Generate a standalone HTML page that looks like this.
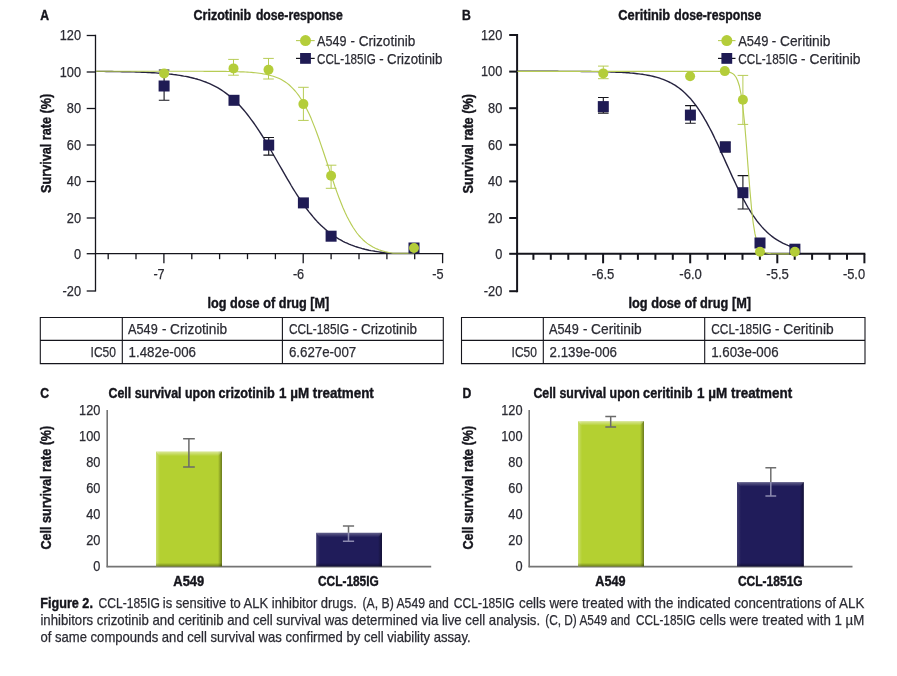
<!DOCTYPE html>
<html lang="en"><head><meta charset="utf-8"><title>Figure 2</title>
<style>
html,body{margin:0;padding:0;background:#fff;}
body{width:897px;height:676px;overflow:hidden;}
svg{display:block;font-family:'Liberation Sans', sans-serif;font-size:14.6px;}
text{fill:#2b2b33;stroke:#2b2b33;stroke-width:0.25px;}
text.b{font-weight:bold;font-size:14.1px;fill:#15151c;stroke:#15151c;stroke-width:0.4px;}
</style></head><body>
<svg width="897" height="676" viewBox="0 0 897 676">
<rect width="897" height="676" fill="#fff"/>
<defs>
<linearGradient id="gT" x1="0" y1="0" x2="0" y2="1"><stop offset="0" stop-color="#fff" stop-opacity=".5"/><stop offset="1" stop-color="#fff" stop-opacity="0"/></linearGradient>
<linearGradient id="gL" x1="0" y1="0" x2="1" y2="0"><stop offset="0" stop-color="#fff" stop-opacity=".3"/><stop offset="1" stop-color="#fff" stop-opacity="0"/></linearGradient>
<linearGradient id="gR" x1="0" y1="0" x2="1" y2="0"><stop offset="0" stop-color="#000" stop-opacity="0"/><stop offset="1" stop-color="#000" stop-opacity=".42"/></linearGradient>
<linearGradient id="gB" x1="0" y1="0" x2="0" y2="1"><stop offset="0" stop-color="#000" stop-opacity="0"/><stop offset="1" stop-color="#000" stop-opacity=".38"/></linearGradient>
<linearGradient id="nT" x1="0" y1="0" x2="0" y2="1"><stop offset="0" stop-color="#fff" stop-opacity=".3"/><stop offset="1" stop-color="#fff" stop-opacity="0"/></linearGradient>
<linearGradient id="nL" x1="0" y1="0" x2="1" y2="0"><stop offset="0" stop-color="#fff" stop-opacity=".14"/><stop offset="1" stop-color="#fff" stop-opacity="0"/></linearGradient>
<linearGradient id="nR" x1="0" y1="0" x2="1" y2="0"><stop offset="0" stop-color="#000" stop-opacity="0"/><stop offset="1" stop-color="#000" stop-opacity=".4"/></linearGradient>
<linearGradient id="nB" x1="0" y1="0" x2="0" y2="1"><stop offset="0" stop-color="#000" stop-opacity="0"/><stop offset="1" stop-color="#000" stop-opacity=".4"/></linearGradient>
</defs>
<text x="40.3" y="19.6" class="b" textLength="8.8" lengthAdjust="spacingAndGlyphs">A</text>
<text x="193.6" y="19.6" class="b" textLength="57.6" lengthAdjust="spacingAndGlyphs">Crizotinib</text>
<text x="255.9" y="19.6" class="b" textLength="86.8" lengthAdjust="spacingAndGlyphs">dose-response</text>
<line x1="95.5" y1="34.8" x2="95.5" y2="291.6" stroke="#15151c" stroke-width="1.3"/>
<line x1="86.7" y1="291" x2="95.5" y2="291" stroke="#15151c" stroke-width="1.3"/>
<text x="81" y="295.8" text-anchor="end" textLength="18.5" lengthAdjust="spacingAndGlyphs">-20</text>
<line x1="86.7" y1="253.7" x2="95.5" y2="253.7" stroke="#15151c" stroke-width="1.3"/>
<text x="81" y="258.5" text-anchor="end" textLength="7.1" lengthAdjust="spacingAndGlyphs">0</text>
<line x1="86.7" y1="218" x2="95.5" y2="218" stroke="#15151c" stroke-width="1.3"/>
<text x="81" y="222.8" text-anchor="end" textLength="14.2" lengthAdjust="spacingAndGlyphs">20</text>
<line x1="86.7" y1="181.5" x2="95.5" y2="181.5" stroke="#15151c" stroke-width="1.3"/>
<text x="81" y="186.3" text-anchor="end" textLength="14.2" lengthAdjust="spacingAndGlyphs">40</text>
<line x1="86.7" y1="145" x2="95.5" y2="145" stroke="#15151c" stroke-width="1.3"/>
<text x="81" y="149.8" text-anchor="end" textLength="14.2" lengthAdjust="spacingAndGlyphs">60</text>
<line x1="86.7" y1="108.5" x2="95.5" y2="108.5" stroke="#15151c" stroke-width="1.3"/>
<text x="81" y="113.3" text-anchor="end" textLength="14.2" lengthAdjust="spacingAndGlyphs">80</text>
<line x1="86.7" y1="72" x2="95.5" y2="72" stroke="#15151c" stroke-width="1.3"/>
<text x="81" y="76.8" text-anchor="end" textLength="21.3" lengthAdjust="spacingAndGlyphs">100</text>
<line x1="86.7" y1="35.5" x2="95.5" y2="35.5" stroke="#15151c" stroke-width="1.3"/>
<text x="81" y="40.3" text-anchor="end" textLength="21.3" lengthAdjust="spacingAndGlyphs">120</text>
<line x1="94.9" y1="253.7" x2="443.3" y2="253.7" stroke="#15151c" stroke-width="1.3"/>
<line x1="108.2" y1="253.7" x2="108.2" y2="259.2" stroke="#15151c" stroke-width="1.3"/>
<line x1="136" y1="253.7" x2="136" y2="259.2" stroke="#15151c" stroke-width="1.3"/>
<line x1="163.9" y1="253.7" x2="163.9" y2="263.2" stroke="#15151c" stroke-width="1.3"/>
<line x1="191.8" y1="253.7" x2="191.8" y2="259.2" stroke="#15151c" stroke-width="1.3"/>
<line x1="219.6" y1="253.7" x2="219.6" y2="259.2" stroke="#15151c" stroke-width="1.3"/>
<line x1="247.5" y1="253.7" x2="247.5" y2="259.2" stroke="#15151c" stroke-width="1.3"/>
<line x1="275.4" y1="253.7" x2="275.4" y2="259.2" stroke="#15151c" stroke-width="1.3"/>
<line x1="303.2" y1="253.7" x2="303.2" y2="263.2" stroke="#15151c" stroke-width="1.3"/>
<line x1="331.1" y1="253.7" x2="331.1" y2="259.2" stroke="#15151c" stroke-width="1.3"/>
<line x1="359" y1="253.7" x2="359" y2="259.2" stroke="#15151c" stroke-width="1.3"/>
<line x1="386.9" y1="253.7" x2="386.9" y2="259.2" stroke="#15151c" stroke-width="1.3"/>
<line x1="414.7" y1="253.7" x2="414.7" y2="259.2" stroke="#15151c" stroke-width="1.3"/>
<line x1="442.6" y1="253.7" x2="442.6" y2="263.2" stroke="#15151c" stroke-width="1.3"/>
<text x="164.7" y="278.8" text-anchor="end" textLength="11.3" lengthAdjust="spacingAndGlyphs">-7</text>
<text x="304.2" y="278.8" text-anchor="end" textLength="11.3" lengthAdjust="spacingAndGlyphs">-6</text>
<text x="443.5" y="278.8" text-anchor="end" textLength="11.3" lengthAdjust="spacingAndGlyphs">-5</text>
<text x="51.3" y="143.4" class="b" text-anchor="middle" textLength="99" lengthAdjust="spacingAndGlyphs" transform="rotate(-90 51.3 143.4)">Survival rate (%)</text>
<text x="207.6" y="307.8" class="b" textLength="121.7" lengthAdjust="spacingAndGlyphs">log dose of drug [M]</text>
<path d="M96.1 71.4 L98.1 71.4 L100.1 71.4 L102.1 71.4 L104.1 71.4 L106.1 71.5 L108.1 71.5 L110.1 71.5 L112.1 71.5 L114.1 71.6 L116.0 71.6 L118.0 71.6 L120.0 71.6 L122.0 71.7 L124.0 71.7 L126.0 71.8 L128.0 71.8 L130.0 71.8 L132.0 71.9 L134.0 71.9 L136.0 72.0 L137.9 72.1 L139.9 72.1 L141.9 72.2 L143.9 72.3 L145.9 72.4 L147.9 72.5 L149.9 72.6 L151.9 72.7 L153.9 72.8 L155.9 72.9 L157.9 73.1 L159.8 73.2 L161.8 73.3 L163.8 73.5 L165.8 73.7 L167.8 73.9 L169.8 74.1 L171.8 74.3 L173.8 74.6 L175.8 74.8 L177.8 75.1 L179.8 75.4 L181.7 75.7 L183.7 76.1 L185.7 76.4 L187.7 76.8 L189.7 77.3 L191.7 77.7 L193.7 78.2 L195.7 78.8 L197.7 79.3 L199.7 79.9 L201.7 80.6 L203.6 81.3 L205.6 82.0 L207.6 82.8 L209.6 83.7 L211.6 84.6 L213.6 85.6 L215.6 86.6 L217.6 87.7 L219.6 88.9 L221.6 90.2 L223.6 91.5 L225.5 92.9 L227.5 94.4 L229.5 96.0 L231.5 97.7 L233.5 99.4 L235.5 101.3 L237.5 103.2 L239.5 105.3 L241.5 107.5 L243.5 109.7 L245.5 112.1 L247.4 114.5 L249.4 117.1 L251.4 119.8 L253.4 122.5 L255.4 125.4 L257.4 128.3 L259.4 131.4 L261.4 134.5 L263.4 137.7 L265.4 140.9 L267.4 144.2 L269.3 147.6 L271.3 151.0 L273.3 154.5 L275.3 158.0 L277.3 161.5 L279.3 165.0 L281.3 168.4 L283.3 171.9 L285.3 175.4 L287.3 178.8 L289.3 182.2 L291.2 185.5 L293.2 188.8 L295.2 192.0 L297.2 195.1 L299.2 198.2 L301.2 201.1 L303.2 204.0 L305.2 206.8 L307.2 209.5 L309.2 212.1 L311.2 214.5 L313.1 216.9 L315.1 219.2 L317.1 221.4 L319.1 223.5 L321.1 225.4 L323.1 227.3 L325.1 229.1 L327.1 230.8 L329.1 232.4 L331.1 233.9 L333.1 235.3 L335.0 236.7 L337.0 237.9 L339.0 239.1 L341.0 240.2 L343.0 241.3 L345.0 242.3 L347.0 243.2 L349.0 244.1 L351.0 244.9 L353.0 245.6 L355.0 246.4 L356.9 247.0 L358.9 247.6 L360.9 248.2 L362.9 248.8 L364.9 249.3 L366.9 249.7 L368.9 250.2 L370.9 250.6 L372.9 250.9 L374.9 251.3 L376.9 251.6 L378.8 251.9 L380.8 252.2 L382.8 252.5 L384.8 252.7 L386.8 252.9 L388.8 253.2 L390.8 253.4 L392.8 253.4 L394.8 253.4 L396.8 253.4 L398.8 253.4 L400.7 253.4 L402.7 253.4 L404.7 253.4 L406.7 253.4 L408.7 253.4 L410.7 253.4 L412.7 253.4 L414.7 253.4" stroke="#26233f" stroke-width="1.4" fill="none" stroke-linejoin="round"/>
<path d="M96.1 71.2 L98.1 71.2 L100.1 71.2 L102.1 71.2 L104.1 71.2 L106.1 71.2 L108.1 71.2 L110.1 71.2 L112.1 71.2 L114.1 71.2 L116.0 71.2 L118.0 71.2 L120.0 71.2 L122.0 71.2 L124.0 71.2 L126.0 71.2 L128.0 71.2 L130.0 71.2 L132.0 71.2 L134.0 71.2 L136.0 71.2 L137.9 71.2 L139.9 71.2 L141.9 71.2 L143.9 71.2 L145.9 71.2 L147.9 71.2 L149.9 71.2 L151.9 71.2 L153.9 71.2 L155.9 71.2 L157.9 71.2 L159.8 71.2 L161.8 71.2 L163.8 71.2 L165.8 71.2 L167.8 71.2 L169.8 71.2 L171.8 71.2 L173.8 71.2 L175.8 71.2 L177.8 71.2 L179.8 71.2 L181.7 71.2 L183.7 71.2 L185.7 71.2 L187.7 71.2 L189.7 71.2 L191.7 71.2 L193.7 71.2 L195.7 71.2 L197.7 71.2 L199.7 71.2 L201.7 71.2 L203.6 71.3 L205.6 71.3 L207.6 71.3 L209.6 71.3 L211.6 71.3 L213.6 71.3 L215.6 71.3 L217.6 71.3 L219.6 71.3 L221.6 71.4 L223.6 71.4 L225.5 71.4 L227.5 71.5 L229.5 71.5 L231.5 71.5 L233.5 71.6 L235.5 71.6 L237.5 71.7 L239.5 71.8 L241.5 71.8 L243.5 71.9 L245.5 72.0 L247.4 72.1 L249.4 72.3 L251.4 72.4 L253.4 72.6 L255.4 72.8 L257.4 73.0 L259.4 73.2 L261.4 73.5 L263.4 73.9 L265.4 74.2 L267.4 74.6 L269.3 75.1 L271.3 75.7 L273.3 76.3 L275.3 77.0 L277.3 77.7 L279.3 78.6 L281.3 79.6 L283.3 80.7 L285.3 82.0 L287.3 83.4 L289.3 85.0 L291.2 86.8 L293.2 88.8 L295.2 91.0 L297.2 93.5 L299.2 96.2 L301.2 99.2 L303.2 102.5 L305.2 106.0 L307.2 109.9 L309.2 114.1 L311.2 118.6 L313.1 123.4 L315.1 128.4 L317.1 133.8 L319.1 139.3 L321.1 145.1 L323.1 151.0 L325.1 157.0 L327.1 163.0 L329.1 169.1 L331.1 175.1 L333.1 181.0 L335.0 186.8 L337.0 192.4 L339.0 197.7 L341.0 202.8 L343.0 207.7 L345.0 212.2 L347.0 216.4 L349.0 220.3 L351.0 223.9 L353.0 227.2 L355.0 230.2 L356.9 233.0 L358.9 235.5 L360.9 237.7 L362.9 239.7 L364.9 241.5 L366.9 243.1 L368.9 244.6 L370.9 245.8 L372.9 247.0 L374.9 248.0 L376.9 248.9 L378.8 249.7 L380.8 250.4 L382.8 251.0 L384.8 251.6 L386.8 252.0 L388.8 252.5 L390.8 252.8 L392.8 253.2 L394.8 253.2 L396.8 253.2 L398.8 253.2 L400.7 253.2 L402.7 253.2 L404.7 253.2 L406.7 253.2 L408.7 253.2 L410.7 253.2 L412.7 253.2 L414.7 253.2" stroke="#b7cc55" stroke-width="1.15" fill="none" stroke-linejoin="round"/>
<path d="M164.1 70V100.3M158.8 70H169.4M158.8 100.3H169.4" stroke="#15151c" stroke-width="1.1" fill="none"/>
<path d="M268.7 137.5V155.1M263.4 137.5H274M263.4 155.1H274" stroke="#15151c" stroke-width="1.1" fill="none"/>
<rect x="158.6" y="80.5" width="11" height="11" fill="#1f1b54"/>
<rect x="228.5" y="94.8" width="11" height="11" fill="#1f1b54"/>
<rect x="263.2" y="139.6" width="11" height="11" fill="#1f1b54"/>
<rect x="297.9" y="197.4" width="11" height="11" fill="#1f1b54"/>
<rect x="325.6" y="230.7" width="11" height="11" fill="#1f1b54"/>
<rect x="408.5" y="242.5" width="11" height="11" fill="#1f1b54"/>
<path d="M233.5 59.4V75.2M228.2 59.4H238.8M228.2 75.2H238.8" stroke="#b7cc55" stroke-width="1.0" fill="none"/>
<path d="M268.5 58.4V79M263.2 58.4H273.8M263.2 79H273.8" stroke="#b7cc55" stroke-width="1.0" fill="none"/>
<path d="M303.4 87.3V120.4M298.1 87.3H308.7M298.1 120.4H308.7" stroke="#b7cc55" stroke-width="1.0" fill="none"/>
<path d="M331.1 165.2V188.3M325.8 165.2H336.4M325.8 188.3H336.4" stroke="#b7cc55" stroke-width="1.0" fill="none"/>
<circle cx="164.1" cy="73.4" r="5.0" fill="#b4cd3a"/>
<circle cx="233.5" cy="68.4" r="5.0" fill="#b4cd3a"/>
<circle cx="268.5" cy="69.7" r="5.0" fill="#b4cd3a"/>
<circle cx="303.4" cy="104.1" r="5.0" fill="#b4cd3a"/>
<circle cx="331.1" cy="175.7" r="5.0" fill="#b4cd3a"/>
<circle cx="414" cy="248" r="5.0" fill="#b4cd3a"/>
<line x1="296" y1="40.6" x2="314.7" y2="40.6" stroke="#b7cc55" stroke-width="1.1"/>
<circle cx="305.5" cy="40.6" r="5.5" fill="#b4cd3a"/>
<line x1="296" y1="58.4" x2="314.7" y2="58.4" stroke="#15151c" stroke-width="1.2"/>
<rect x="300.1" y="53.0" width="10.8" height="10.8" fill="#1f1b54"/>
<text x="317" y="46" textLength="29.4" lengthAdjust="spacingAndGlyphs">A549</text>
<text x="350.6" y="46" textLength="4.4" lengthAdjust="spacingAndGlyphs">-</text>
<text x="358.7" y="46" textLength="56.6" lengthAdjust="spacingAndGlyphs">Crizotinib</text>
<text x="317" y="63.6" textLength="58.8" lengthAdjust="spacingAndGlyphs">CCL-185IG</text>
<text x="379.2" y="63.6" textLength="4.4" lengthAdjust="spacingAndGlyphs">-</text>
<text x="387.1" y="63.6" textLength="55.3" lengthAdjust="spacingAndGlyphs">Crizotinib</text>
<path d="M40.3 317.5H443.3V363.6H40.3ZM40.3 340.4H443.3M122.3 317.5V363.6M282.4 317.5V363.6" stroke="#15151c" stroke-width="1.1" fill="none" stroke-linecap="square"/>
<text x="128.1" y="333.6" textLength="29.6" lengthAdjust="spacingAndGlyphs">A549</text>
<text x="161.9" y="333.6" textLength="4.4" lengthAdjust="spacingAndGlyphs">-</text>
<text x="170.1" y="333.6" textLength="57" lengthAdjust="spacingAndGlyphs">Crizotinib</text>
<text x="288.9" y="333.6" textLength="60.2" lengthAdjust="spacingAndGlyphs">CCL-185IG</text>
<text x="352.7" y="333.6" textLength="4.4" lengthAdjust="spacingAndGlyphs">-</text>
<text x="360.9" y="333.6" textLength="56.2" lengthAdjust="spacingAndGlyphs">Crizotinib</text>
<text x="116" y="356.5" text-anchor="end" textLength="25.4" lengthAdjust="spacingAndGlyphs">IC50</text>
<text x="128.6" y="356.5" textLength="67.4" lengthAdjust="spacingAndGlyphs">1.482e-006</text>
<text x="288.9" y="356.5" textLength="67.4" lengthAdjust="spacingAndGlyphs">6.627e-007</text>
<text x="462" y="19.6" class="b" textLength="8.8" lengthAdjust="spacingAndGlyphs">B</text>
<text x="618.3" y="19.6" class="b" textLength="51.9" lengthAdjust="spacingAndGlyphs">Ceritinib</text>
<text x="674.3" y="19.6" class="b" textLength="86.9" lengthAdjust="spacingAndGlyphs">dose-response</text>
<line x1="517.1" y1="34" x2="517.1" y2="292.2" stroke="#15151c" stroke-width="2"/>
<line x1="509.2" y1="291.2" x2="517.1" y2="291.2" stroke="#15151c" stroke-width="2"/>
<text x="502.3" y="296" text-anchor="end" textLength="18.5" lengthAdjust="spacingAndGlyphs">-20</text>
<line x1="509.2" y1="253.8" x2="517.1" y2="253.8" stroke="#15151c" stroke-width="2"/>
<text x="502.3" y="258.6" text-anchor="end" textLength="7.1" lengthAdjust="spacingAndGlyphs">0</text>
<line x1="509.2" y1="218" x2="517.1" y2="218" stroke="#15151c" stroke-width="2"/>
<text x="502.3" y="222.8" text-anchor="end" textLength="14.2" lengthAdjust="spacingAndGlyphs">20</text>
<line x1="509.2" y1="181.4" x2="517.1" y2="181.4" stroke="#15151c" stroke-width="2"/>
<text x="502.3" y="186.2" text-anchor="end" textLength="14.2" lengthAdjust="spacingAndGlyphs">40</text>
<line x1="509.2" y1="144.8" x2="517.1" y2="144.8" stroke="#15151c" stroke-width="2"/>
<text x="502.3" y="149.6" text-anchor="end" textLength="14.2" lengthAdjust="spacingAndGlyphs">60</text>
<line x1="509.2" y1="108.2" x2="517.1" y2="108.2" stroke="#15151c" stroke-width="2"/>
<text x="502.3" y="113" text-anchor="end" textLength="14.2" lengthAdjust="spacingAndGlyphs">80</text>
<line x1="509.2" y1="71.6" x2="517.1" y2="71.6" stroke="#15151c" stroke-width="2"/>
<text x="502.3" y="76.4" text-anchor="end" textLength="21.3" lengthAdjust="spacingAndGlyphs">100</text>
<line x1="509.2" y1="35" x2="517.1" y2="35" stroke="#15151c" stroke-width="2"/>
<text x="502.3" y="39.8" text-anchor="end" textLength="21.3" lengthAdjust="spacingAndGlyphs">120</text>
<line x1="516.1" y1="253.8" x2="865.3" y2="253.8" stroke="#15151c" stroke-width="2"/>
<line x1="533.4" y1="253.8" x2="533.4" y2="259.8" stroke="#15151c" stroke-width="2"/>
<line x1="550.8" y1="253.8" x2="550.8" y2="259.8" stroke="#15151c" stroke-width="2"/>
<line x1="568.3" y1="253.8" x2="568.3" y2="259.8" stroke="#15151c" stroke-width="2"/>
<line x1="585.7" y1="253.8" x2="585.7" y2="259.8" stroke="#15151c" stroke-width="2"/>
<line x1="603.1" y1="253.8" x2="603.1" y2="263.3" stroke="#15151c" stroke-width="2"/>
<line x1="620.5" y1="253.8" x2="620.5" y2="259.8" stroke="#15151c" stroke-width="2"/>
<line x1="637.9" y1="253.8" x2="637.9" y2="259.8" stroke="#15151c" stroke-width="2"/>
<line x1="655.4" y1="253.8" x2="655.4" y2="259.8" stroke="#15151c" stroke-width="2"/>
<line x1="672.8" y1="253.8" x2="672.8" y2="259.8" stroke="#15151c" stroke-width="2"/>
<line x1="690.2" y1="253.8" x2="690.2" y2="263.3" stroke="#15151c" stroke-width="2"/>
<line x1="707.6" y1="253.8" x2="707.6" y2="259.8" stroke="#15151c" stroke-width="2"/>
<line x1="725" y1="253.8" x2="725" y2="259.8" stroke="#15151c" stroke-width="2"/>
<line x1="742.5" y1="253.8" x2="742.5" y2="259.8" stroke="#15151c" stroke-width="2"/>
<line x1="759.9" y1="253.8" x2="759.9" y2="259.8" stroke="#15151c" stroke-width="2"/>
<line x1="777.3" y1="253.8" x2="777.3" y2="263.3" stroke="#15151c" stroke-width="2"/>
<line x1="794.7" y1="253.8" x2="794.7" y2="259.8" stroke="#15151c" stroke-width="2"/>
<line x1="812.1" y1="253.8" x2="812.1" y2="259.8" stroke="#15151c" stroke-width="2"/>
<line x1="829.6" y1="253.8" x2="829.6" y2="259.8" stroke="#15151c" stroke-width="2"/>
<line x1="847" y1="253.8" x2="847" y2="259.8" stroke="#15151c" stroke-width="2"/>
<line x1="864.4" y1="253.8" x2="864.4" y2="263.3" stroke="#15151c" stroke-width="2"/>
<text x="603.1" y="278.8" text-anchor="middle" textLength="22.6" lengthAdjust="spacingAndGlyphs">-6.5</text>
<text x="690.6" y="278.8" text-anchor="middle" textLength="22.6" lengthAdjust="spacingAndGlyphs">-6.0</text>
<text x="777.6" y="278.8" text-anchor="middle" textLength="22.6" lengthAdjust="spacingAndGlyphs">-5.5</text>
<text x="865.1" y="278.8" text-anchor="end" textLength="22.2" lengthAdjust="spacingAndGlyphs">-5.0</text>
<text x="473.5" y="143.8" class="b" text-anchor="middle" textLength="99.5" lengthAdjust="spacingAndGlyphs" transform="rotate(-90 473.5 143.8)">Survival rate (%)</text>
<text x="628.5" y="307.8" class="b" textLength="122.5" lengthAdjust="spacingAndGlyphs">log dose of drug [M]</text>
<path d="M517.5 71.3 L519.3 71.3 L521.0 71.3 L522.7 71.3 L524.5 71.3 L526.2 71.3 L527.9 71.3 L529.7 71.3 L531.4 71.3 L533.1 71.3 L534.9 71.3 L536.6 71.3 L538.3 71.3 L540.1 71.3 L541.8 71.3 L543.5 71.3 L545.3 71.3 L547.0 71.3 L548.7 71.3 L550.5 71.3 L552.2 71.3 L553.9 71.3 L555.7 71.3 L557.4 71.3 L559.1 71.4 L560.9 71.4 L562.6 71.4 L564.3 71.4 L566.1 71.4 L567.8 71.4 L569.5 71.4 L571.3 71.4 L573.0 71.4 L574.7 71.4 L576.5 71.4 L578.2 71.4 L579.9 71.4 L581.7 71.5 L583.4 71.5 L585.1 71.5 L586.9 71.5 L588.6 71.5 L590.3 71.5 L592.1 71.6 L593.8 71.6 L595.5 71.6 L597.3 71.6 L599.0 71.7 L600.7 71.7 L602.5 71.7 L604.2 71.8 L605.9 71.8 L607.7 71.9 L609.4 71.9 L611.1 72.0 L612.9 72.0 L614.6 72.1 L616.3 72.2 L618.1 72.2 L619.8 72.3 L621.5 72.4 L623.3 72.5 L625.0 72.6 L626.7 72.7 L628.5 72.8 L630.2 73.0 L631.9 73.1 L633.7 73.3 L635.4 73.5 L637.1 73.7 L638.9 73.9 L640.6 74.1 L642.3 74.3 L644.1 74.6 L645.8 74.9 L647.5 75.2 L649.3 75.5 L651.0 75.9 L652.7 76.3 L654.5 76.7 L656.2 77.1 L657.9 77.6 L659.7 78.2 L661.4 78.8 L663.1 79.4 L664.9 80.1 L666.6 80.8 L668.3 81.6 L670.1 82.5 L671.8 83.4 L673.5 84.4 L675.3 85.4 L677.0 86.6 L678.7 87.8 L680.5 89.1 L682.2 90.5 L683.9 92.1 L685.7 93.7 L687.4 95.4 L689.1 97.2 L690.9 99.1 L692.6 101.2 L694.3 103.4 L696.1 105.7 L697.8 108.1 L699.5 110.7 L701.3 113.3 L703.0 116.1 L704.7 119.1 L706.5 122.1 L708.2 125.3 L709.9 128.5 L711.7 131.9 L713.4 135.4 L715.1 139.0 L716.9 142.6 L718.6 146.3 L720.3 150.1 L722.0 153.9 L723.8 157.7 L725.5 161.6 L727.2 165.4 L729.0 169.3 L730.7 173.1 L732.4 176.9 L734.2 180.6 L735.9 184.3 L737.6 187.9 L739.4 191.5 L741.1 194.9 L742.8 198.2 L744.6 201.4 L746.3 204.5 L748.0 207.5 L749.8 210.4 L751.5 213.1 L753.2 215.7 L755.0 218.2 L756.7 220.6 L758.4 222.8 L760.2 224.9 L761.9 226.9 L763.6 228.8 L765.4 230.6 L767.1 232.2 L768.8 233.8 L770.6 235.3 L772.3 236.6 L774.0 237.9 L775.8 239.1 L777.5 240.2 L779.2 241.2 L781.0 242.2 L782.7 243.1 L784.4 243.9 L786.2 244.7 L787.9 245.4 L789.6 246.0 L791.4 246.6 L793.1 247.2 L794.8 247.7" stroke="#26233f" stroke-width="1.4" fill="none" stroke-linejoin="round"/>
<path d="M517.5 71.3 L519.3 71.3 L521.0 71.3 L522.7 71.3 L524.5 71.3 L526.2 71.3 L527.9 71.3 L529.7 71.3 L531.4 71.3 L533.1 71.3 L534.9 71.3 L536.6 71.3 L538.3 71.3 L540.1 71.3 L541.8 71.3 L543.5 71.3 L545.3 71.3 L547.0 71.3 L548.7 71.3 L550.5 71.3 L552.2 71.3 L553.9 71.3 L555.7 71.3 L557.4 71.3 L559.1 71.3 L560.9 71.3 L562.6 71.3 L564.3 71.3 L566.1 71.3 L567.8 71.3 L569.5 71.3 L571.3 71.3 L573.0 71.3 L574.7 71.3 L576.5 71.3 L578.2 71.3 L579.9 71.3 L581.7 71.3 L583.4 71.3 L585.1 71.3 L586.9 71.3 L588.6 71.3 L590.3 71.3 L592.1 71.3 L593.8 71.3 L595.5 71.3 L597.3 71.3 L599.0 71.3 L600.7 71.3 L602.5 71.3 L604.2 71.3 L605.9 71.3 L607.7 71.3 L609.4 71.3 L611.1 71.3 L612.9 71.3 L614.6 71.3 L616.3 71.3 L618.1 71.3 L619.8 71.3 L621.5 71.3 L623.3 71.3 L625.0 71.3 L626.7 71.3 L628.5 71.3 L630.2 71.3 L631.9 71.3 L633.7 71.3 L635.4 71.3 L637.1 71.3 L638.9 71.3 L640.6 71.3 L642.3 71.3 L644.1 71.3 L645.8 71.3 L647.5 71.3 L649.3 71.3 L651.0 71.3 L652.7 71.3 L654.5 71.3 L656.2 71.3 L657.9 71.3 L659.7 71.3 L661.4 71.3 L663.1 71.3 L664.9 71.3 L666.6 71.3 L668.3 71.3 L670.1 71.3 L671.8 71.3 L673.5 71.3 L675.3 71.3 L677.0 71.3 L678.7 71.3 L680.5 71.3 L682.2 71.3 L683.9 71.3 L685.7 71.3 L687.4 71.3 L689.1 71.3 L690.9 71.3 L692.6 71.3 L694.3 71.3 L696.1 71.3 L697.8 71.3 L699.5 71.3 L701.3 71.3 L703.0 71.3 L704.7 71.3 L706.5 71.3 L708.2 71.3 L709.9 71.3 L711.7 71.3 L713.4 71.3 L715.1 71.3 L716.9 71.3 L718.6 71.3 L720.3 71.4 L722.0 71.4 L723.8 71.5 L725.5 71.6 L727.2 71.8 L729.0 72.1 L730.7 72.6 L732.4 73.4 L734.2 74.8 L735.9 77.0 L737.6 80.5 L739.4 86.0 L741.1 94.5 L742.8 106.7 L744.6 123.3 L746.3 143.8 L748.0 166.4 L749.8 188.7 L751.5 208.0 L753.2 223.0 L755.0 233.9 L756.7 241.2 L758.4 246.0 L760.2 249.0 L761.9 250.9 L763.6 252.0 L765.4 252.7 L767.1 253.1 L768.8 253.4 L770.6 253.6 L772.3 253.7 L774.0 253.7 L775.8 253.7 L777.5 253.8 L779.2 253.8 L781.0 253.8 L782.7 253.8 L784.4 253.8 L786.2 253.8 L787.9 253.8 L789.6 253.8 L791.4 253.8 L793.1 253.8 L794.8 253.8" stroke="#b7cc55" stroke-width="1.15" fill="none" stroke-linejoin="round"/>
<path d="M603.3 97.5V113.1M598 97.5H608.6M598 113.1H608.6" stroke="#15151c" stroke-width="1.1" fill="none"/>
<path d="M690.4 105.6V123.2M685.1 105.6H695.7M685.1 123.2H695.7" stroke="#15151c" stroke-width="1.1" fill="none"/>
<path d="M742.9 175.6V209M737.6 175.6H748.2M737.6 209H748.2" stroke="#15151c" stroke-width="1.1" fill="none"/>
<path d="M725.3 142V152M720 142H730.6M720 152H730.6" stroke="#15151c" stroke-width="1.1" fill="none"/>
<rect x="597.8" y="101.1" width="11" height="11" fill="#1f1b54"/>
<rect x="684.9" y="109.6" width="11" height="11" fill="#1f1b54"/>
<rect x="719.8" y="141.5" width="11" height="11" fill="#1f1b54"/>
<rect x="737.4" y="187.2" width="11" height="11" fill="#1f1b54"/>
<rect x="754.5" y="237.5" width="11" height="11" fill="#1f1b54"/>
<rect x="789.4" y="243.7" width="11" height="11" fill="#1f1b54"/>
<path d="M603.3 66.1V78.7M598 66.1H608.6M598 78.7H608.6" stroke="#b7cc55" stroke-width="1.0" fill="none"/>
<path d="M742.9 75.4V124.4M737.6 75.4H748.2M737.6 124.4H748.2" stroke="#b7cc55" stroke-width="1.0" fill="none"/>
<circle cx="603.3" cy="73.4" r="5.0" fill="#b4cd3a"/>
<circle cx="690.1" cy="76.2" r="5.0" fill="#b4cd3a"/>
<circle cx="724.8" cy="71.1" r="5.0" fill="#b4cd3a"/>
<circle cx="742.9" cy="99.8" r="5.0" fill="#b4cd3a"/>
<circle cx="760" cy="251.8" r="5.0" fill="#b4cd3a"/>
<circle cx="794.9" cy="251.8" r="5.0" fill="#b4cd3a"/>
<line x1="718" y1="40.6" x2="735.5" y2="40.6" stroke="#b7cc55" stroke-width="1.1"/>
<circle cx="726.8" cy="40.6" r="5.5" fill="#b4cd3a"/>
<line x1="718" y1="58.4" x2="735.5" y2="58.4" stroke="#15151c" stroke-width="1.2"/>
<rect x="721.4" y="53.0" width="10.8" height="10.8" fill="#1f1b54"/>
<text x="738.2" y="46" textLength="30.2" lengthAdjust="spacingAndGlyphs">A549</text>
<text x="771.8" y="46" textLength="4.4" lengthAdjust="spacingAndGlyphs">-</text>
<text x="780" y="46" textLength="50.4" lengthAdjust="spacingAndGlyphs">Ceritinib</text>
<text x="738.2" y="63.6" textLength="59.4" lengthAdjust="spacingAndGlyphs">CCL-185IG</text>
<text x="801" y="63.6" textLength="4.4" lengthAdjust="spacingAndGlyphs">-</text>
<text x="809.6" y="63.6" textLength="50.9" lengthAdjust="spacingAndGlyphs">Ceritinib</text>
<path d="M461.5 317.5H865.0V363.6H461.5ZM461.5 340.4H865.0M543.3 317.5V363.6M704.7 317.5V363.6" stroke="#15151c" stroke-width="1.1" fill="none" stroke-linecap="square"/>
<text x="549.1" y="333.6" textLength="29.6" lengthAdjust="spacingAndGlyphs">A549</text>
<text x="582.9" y="333.6" textLength="4.4" lengthAdjust="spacingAndGlyphs">-</text>
<text x="591.1" y="333.6" textLength="50.5" lengthAdjust="spacingAndGlyphs">Ceritinib</text>
<text x="711.2" y="333.6" textLength="60.2" lengthAdjust="spacingAndGlyphs">CCL-185IG</text>
<text x="775" y="333.6" textLength="4.4" lengthAdjust="spacingAndGlyphs">-</text>
<text x="783.2" y="333.6" textLength="50.5" lengthAdjust="spacingAndGlyphs">Ceritinib</text>
<text x="537" y="356.5" text-anchor="end" textLength="25.4" lengthAdjust="spacingAndGlyphs">IC50</text>
<text x="549.6" y="356.5" textLength="67.4" lengthAdjust="spacingAndGlyphs">2.139e-006</text>
<text x="711.2" y="356.5" textLength="67.4" lengthAdjust="spacingAndGlyphs">1.603e-006</text>
<text x="40.3" y="398" class="b" textLength="8.8" lengthAdjust="spacingAndGlyphs">C</text>
<text x="108.5" y="398" class="b" textLength="106.8" lengthAdjust="spacingAndGlyphs">Cell survival upon</text>
<text x="218.5" y="398" class="b" textLength="56.3" lengthAdjust="spacingAndGlyphs">crizotinib</text>
<text x="279" y="398" class="b" textLength="94.8" lengthAdjust="spacingAndGlyphs">1 µM treatment</text>
<line x1="107.2" y1="410" x2="107.2" y2="567.2" stroke="#747474" stroke-width="1.6"/>
<line x1="106.6" y1="566.6" x2="431.2" y2="566.6" stroke="#747474" stroke-width="1.6"/>
<text x="100.4" y="571.1" text-anchor="end" textLength="7.1" lengthAdjust="spacingAndGlyphs">0</text>
<text x="100.4" y="545.1" text-anchor="end" textLength="14.2" lengthAdjust="spacingAndGlyphs">20</text>
<text x="100.4" y="519.2" text-anchor="end" textLength="14.2" lengthAdjust="spacingAndGlyphs">40</text>
<text x="100.4" y="493.2" text-anchor="end" textLength="14.2" lengthAdjust="spacingAndGlyphs">60</text>
<text x="100.4" y="467.3" text-anchor="end" textLength="14.2" lengthAdjust="spacingAndGlyphs">80</text>
<text x="100.4" y="441.3" text-anchor="end" textLength="21.3" lengthAdjust="spacingAndGlyphs">100</text>
<text x="100.4" y="415.4" text-anchor="end" textLength="21.3" lengthAdjust="spacingAndGlyphs">120</text>
<text x="51.3" y="487.7" class="b" text-anchor="middle" textLength="123.8" lengthAdjust="spacingAndGlyphs" transform="rotate(-90 51.3 487.7)">Cell survival rate (%)</text>
<rect x="156" y="451.6" width="66.0" height="114.8" fill="#b4d031"/>
<rect x="156" y="451.6" width="4" height="114.8" fill="url(#gL)"/>
<rect x="218.0" y="451.6" width="4" height="114.8" fill="url(#gR)"/>
<rect x="156" y="562.9" width="66.0" height="3.5" fill="url(#gB)"/>
<path d="M156 451.6H222L218.5 456.1H159.5Z" fill="url(#gT)"/>
<rect x="316.2" y="532.8" width="65.8" height="33.6" fill="#201c5a"/>
<rect x="316.2" y="532.8" width="4" height="33.6" fill="url(#nL)"/>
<rect x="378.0" y="532.8" width="4" height="33.6" fill="url(#nR)"/>
<rect x="316.2" y="562.9" width="65.8" height="3.5" fill="url(#nB)"/>
<path d="M316.2 532.8H382L378.5 537.3H319.7Z" fill="url(#nT)"/>
<path d="M188.9 438.8V466.9M183.1 438.8H194.8M183.1 466.9H194.8" stroke="#6a6a6a" stroke-width="1.5" fill="none"/>
<path d="M348.5 525.9V532.8M342.9 525.9H354.1" stroke="#6f6f6f" stroke-width="1.5" fill="none"/>
<path d="M348.5 532.8V541.2M342.9 541.2H354.1" stroke="#8c8ab0" stroke-width="1.5" fill="none"/>
<text x="173.3" y="586.1" class="b" textLength="30.9" lengthAdjust="spacingAndGlyphs">A549</text>
<text x="318" y="586.1" class="b" textLength="60.8" lengthAdjust="spacingAndGlyphs">CCL-185IG</text>
<text x="462.6" y="398" class="b" textLength="8.8" lengthAdjust="spacingAndGlyphs">D</text>
<text x="533.4" y="398" class="b" textLength="106.4" lengthAdjust="spacingAndGlyphs">Cell survival upon</text>
<text x="643.1" y="398" class="b" textLength="49.5" lengthAdjust="spacingAndGlyphs">ceritinib</text>
<text x="697.1" y="398" class="b" textLength="95.1" lengthAdjust="spacingAndGlyphs">1 µM treatment</text>
<line x1="529.2" y1="410" x2="529.2" y2="567.2" stroke="#747474" stroke-width="1.6"/>
<line x1="528.6" y1="566.6" x2="852.5" y2="566.6" stroke="#747474" stroke-width="1.6"/>
<text x="522.5" y="571.1" text-anchor="end" textLength="7.1" lengthAdjust="spacingAndGlyphs">0</text>
<text x="522.5" y="545.1" text-anchor="end" textLength="14.2" lengthAdjust="spacingAndGlyphs">20</text>
<text x="522.5" y="519.2" text-anchor="end" textLength="14.2" lengthAdjust="spacingAndGlyphs">40</text>
<text x="522.5" y="493.2" text-anchor="end" textLength="14.2" lengthAdjust="spacingAndGlyphs">60</text>
<text x="522.5" y="467.3" text-anchor="end" textLength="14.2" lengthAdjust="spacingAndGlyphs">80</text>
<text x="522.5" y="441.3" text-anchor="end" textLength="21.3" lengthAdjust="spacingAndGlyphs">100</text>
<text x="522.5" y="415.4" text-anchor="end" textLength="21.3" lengthAdjust="spacingAndGlyphs">120</text>
<text x="473.5" y="487.7" class="b" text-anchor="middle" textLength="123.8" lengthAdjust="spacingAndGlyphs" transform="rotate(-90 473.5 487.7)">Cell survival rate (%)</text>
<rect x="578" y="421.1" width="66.0" height="145.3" fill="#b4d031"/>
<rect x="578" y="421.1" width="4" height="145.3" fill="url(#gL)"/>
<rect x="640.0" y="421.1" width="4" height="145.3" fill="url(#gR)"/>
<rect x="578" y="562.9" width="66.0" height="3.5" fill="url(#gB)"/>
<path d="M578 421.1H644L640.5 425.6H581.5Z" fill="url(#gT)"/>
<rect x="737" y="482.1" width="66.8" height="84.3" fill="#201c5a"/>
<rect x="737" y="482.1" width="4" height="84.3" fill="url(#nL)"/>
<rect x="799.8" y="482.1" width="4" height="84.3" fill="url(#nR)"/>
<rect x="737" y="562.9" width="66.8" height="3.5" fill="url(#nB)"/>
<path d="M737 482.1H803.8L800.3 486.6H740.5Z" fill="url(#nT)"/>
<path d="M610.7 416.6V426.9M605.3 416.6H616.1M605.3 426.9H616.1" stroke="#6a6a6a" stroke-width="1.5" fill="none"/>
<path d="M770.8 467.8V482.1M765.4 467.8H776.2" stroke="#6f6f6f" stroke-width="1.5" fill="none"/>
<path d="M770.8 482.1V495.9M765.4 495.9H776.2" stroke="#8c8ab0" stroke-width="1.5" fill="none"/>
<text x="595.3" y="586.1" class="b" textLength="30.2" lengthAdjust="spacingAndGlyphs">A549</text>
<text x="737.9" y="586.1" class="b" textLength="64.8" lengthAdjust="spacingAndGlyphs">CCL-1851G</text>
<text x="40.3" y="608.2" class="b" textLength="52.6" lengthAdjust="spacingAndGlyphs">Figure 2.</text>
<text x="98.6" y="608.2" textLength="61.2" lengthAdjust="spacingAndGlyphs">CCL-185IG</text>
<text x="162.8" y="608.2" textLength="194.1" lengthAdjust="spacingAndGlyphs">is sensitive to ALK inhibitor drugs.</text>
<text x="362.5" y="608.2" textLength="86.3" lengthAdjust="spacingAndGlyphs">(A, B) A549 and</text>
<text x="453.8" y="608.2" textLength="60.9" lengthAdjust="spacingAndGlyphs">CCL-185IG</text>
<text x="519" y="608.2" textLength="345.3" lengthAdjust="spacingAndGlyphs">cells were treated with the indicated concentrations of ALK</text>
<text x="40.4" y="625.1" textLength="499.7" lengthAdjust="spacingAndGlyphs">inhibitors crizotinib and ceritinib and cell survival was determined via live cell analysis.</text>
<text x="545.2" y="625.1" textLength="85" lengthAdjust="spacingAndGlyphs">(C, D) A549 and</text>
<text x="635.9" y="625.1" textLength="59.5" lengthAdjust="spacingAndGlyphs">CCL-185IG</text>
<text x="699.4" y="625.1" textLength="164.9" lengthAdjust="spacingAndGlyphs">cells were treated with 1 µM</text>
<text x="40.4" y="642.4" textLength="430.2" lengthAdjust="spacingAndGlyphs">of same compounds and cell survival was confirmed by cell viability assay.</text>
</svg>
</body></html>
